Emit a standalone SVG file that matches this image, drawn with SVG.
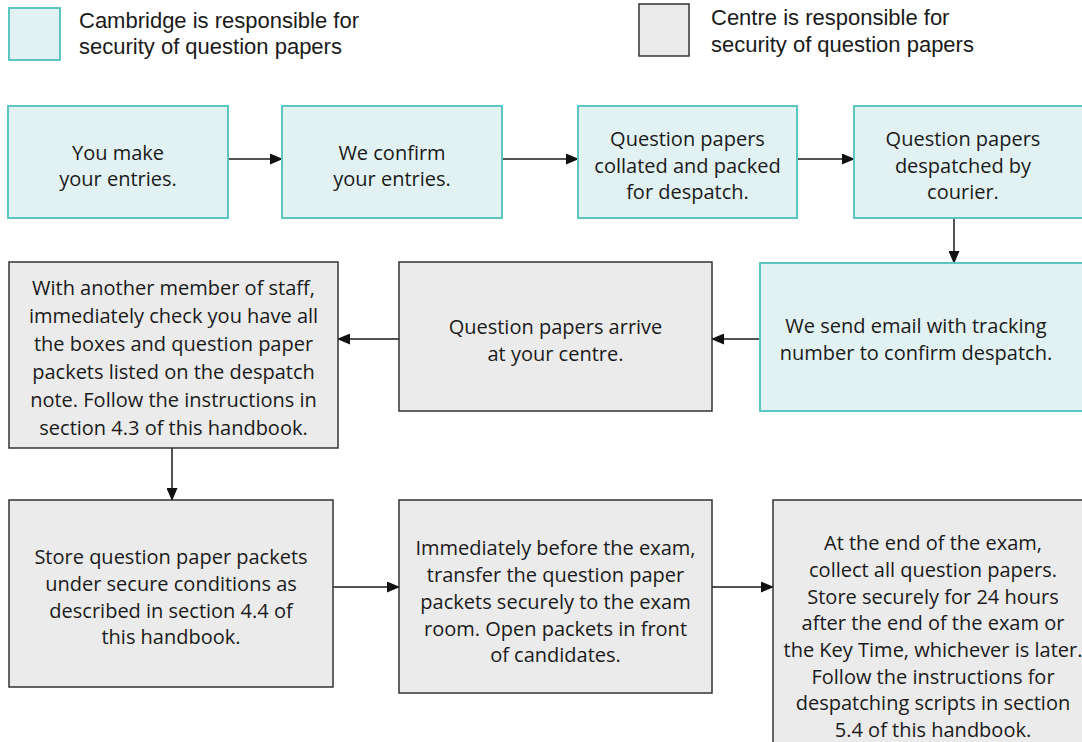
<svg xmlns="http://www.w3.org/2000/svg" width="1082" height="742" viewBox="0 0 1082 742">
<style>
.cam{fill:#e2f2f2;stroke:#5cc6c2;stroke-width:2}
.ctr{fill:#ebebeb;stroke:#333;stroke-width:1.5}
text{font-family:"Open Sans","Liberation Sans",sans-serif;font-size:20px;fill:#1a1a1a}
.lg{font-family:"Liberation Sans","Open Sans",sans-serif;font-size:22px}
.n text{text-anchor:middle}
.conn line{stroke:#1a1a1a;stroke-width:1.5}
</style>
<defs>
<marker id="ah" markerWidth="13" markerHeight="11" refX="12" refY="5.5" orient="auto" markerUnits="userSpaceOnUse">
<path d="M0,0 L13,5.5 L0,11 Z" fill="#111"/>
</marker>
</defs>
<rect width="1082" height="742" fill="#fff"/>
<g id="legend-cambridge">
<rect class="cam" x="9" y="8" width="51" height="52"/>
<text class="lg" x="79" y="28">Cambridge is responsible for</text>
<text class="lg" x="79" y="54">security of question papers</text>
</g>
<g id="legend-centre">
<rect class="ctr" x="639" y="4" width="50" height="52"/>
<text class="lg" x="711" y="25">Centre is responsible for</text>
<text class="lg" x="711" y="51.5">security of question papers</text>
</g>
<g class="conn" id="connectors">
<line x1="228" y1="159" x2="282" y2="159" marker-end="url(#ah)"/>
<line x1="502" y1="159" x2="578" y2="159" marker-end="url(#ah)"/>
<line x1="797" y1="159" x2="854" y2="159" marker-end="url(#ah)"/>
<line x1="954" y1="218" x2="954" y2="263" marker-end="url(#ah)"/>
<line x1="760" y1="339" x2="712" y2="339" marker-end="url(#ah)"/>
<line x1="399" y1="339" x2="338" y2="339" marker-end="url(#ah)"/>
<line x1="172" y1="448" x2="172" y2="500" marker-end="url(#ah)"/>
<line x1="333" y1="587" x2="399" y2="587" marker-end="url(#ah)"/>
<line x1="712" y1="587" x2="773" y2="587" marker-end="url(#ah)"/>
</g>
<g class="n" id="n1">
<rect class="cam" x="8" y="106" width="220" height="112"/>
<text x="118" y="160">You make</text>
<text x="118" y="186">your entries.</text>
</g>
<g class="n" id="n2">
<rect class="cam" x="282" y="106" width="220" height="112"/>
<text x="392" y="160">We confirm</text>
<text x="392" y="186">your entries.</text>
</g>
<g class="n" id="n3">
<rect class="cam" x="578" y="106" width="219" height="112"/>
<text x="687.5" y="146">Question papers</text>
<text x="687.5" y="173">collated and packed</text>
<text x="687.5" y="199">for despatch.</text>
</g>
<g class="n" id="n4">
<rect class="cam" x="854" y="106" width="240" height="112"/>
<text x="963" y="146">Question papers</text>
<text x="963" y="173">despatched by</text>
<text x="963" y="199">courier.</text>
</g>
<g class="n" id="n5">
<rect class="cam" x="760" y="263" width="330" height="148"/>
<text x="916" y="333">We send email with tracking</text>
<text x="916" y="360">number to confirm despatch.</text>
</g>
<g class="n" id="n6">
<rect class="ctr" x="399" y="262" width="313" height="149"/>
<text x="555.5" y="334">Question papers arrive</text>
<text x="555.5" y="361">at your centre.</text>
</g>
<g class="n" id="n7">
<rect class="ctr" x="9" y="262" width="329" height="186"/>
<text x="173.5" y="295">With another member of staff,</text>
<text x="173.5" y="323">immediately check you have all</text>
<text x="173.5" y="351">the boxes and question paper</text>
<text x="173.5" y="379">packets listed on the despatch</text>
<text x="173.5" y="407">note. Follow the instructions in</text>
<text x="173.5" y="435">section 4.3 of this handbook.</text>
</g>
<g class="n" id="n8">
<rect class="ctr" x="9" y="500" width="324" height="187"/>
<text x="171" y="564">Store question paper packets</text>
<text x="171" y="591">under secure conditions as</text>
<text x="171" y="618">described in section 4.4 of</text>
<text x="171" y="644">this handbook.</text>
</g>
<g class="n" id="n9">
<rect class="ctr" x="399" y="500" width="313" height="193"/>
<text x="555.5" y="555">Immediately before the exam,</text>
<text x="555.5" y="582">transfer the question paper</text>
<text x="555.5" y="609">packets securely to the exam</text>
<text x="555.5" y="636">room. Open packets in front</text>
<text x="555.5" y="662">of candidates.</text>
</g>
<g class="n" id="n10">
<rect class="ctr" x="773" y="500" width="330" height="260"/>
<text x="933" y="550">At the end of the exam,</text>
<text x="933" y="577">collect all question papers.</text>
<text x="933" y="604">Store securely for 24 hours</text>
<text x="933" y="630">after the end of the exam or</text>
<text x="933" y="657">the Key Time, whichever is later.</text>
<text x="933" y="684">Follow the instructions for</text>
<text x="933" y="710">despatching scripts in section</text>
<text x="933" y="737">5.4 of this handbook.</text>
</g>
</svg>
